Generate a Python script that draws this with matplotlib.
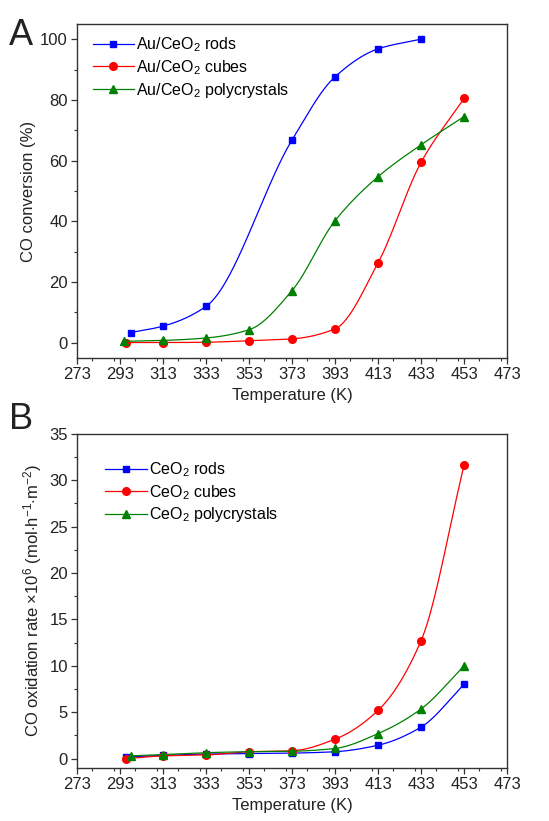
import numpy as np
import matplotlib.pyplot as plt
from matplotlib.ticker import MultipleLocator

plt.rcParams['font.family'] = ['Liberation Sans', 'DejaVu Sans']
plt.rcParams['mathtext.fontset'] = 'custom'
plt.rcParams['mathtext.rm'] = 'Liberation Sans'
plt.rcParams['mathtext.it'] = 'Liberation Sans'

# panel A: CO conversion (%) of Au/CeO2 catalysts
t_rods_a = [298, 313, 333, 373, 393, 413, 433]
rods_a = [3.4, 5.5, 12.0, 66.8, 87.6, 96.8, 100.0]
t_cubes_a = [296, 313, 333, 353, 373, 393, 413, 433, 453]
cubes_a = [0.1, 0.1, 0.2, 0.7, 1.3, 4.6, 26.3, 59.4, 80.5]
t_poly_a = [295, 313, 333, 353, 373, 393, 413, 433, 453]
poly_a = [0.5, 0.8, 1.6, 4.3, 17.2, 40.2, 54.7, 65.2, 74.5]

# panel B: CO oxidation rate of bare CeO2
t_rods_b = [296, 313, 333, 353, 373, 393, 413, 433, 453]
rods_b = [0.2, 0.35, 0.5, 0.55, 0.6, 0.75, 1.45, 3.4, 8.0]
t_cubes_b = [296, 313, 333, 353, 373, 393, 413, 433, 453]
cubes_b = [0.0, 0.3, 0.4, 0.75, 0.85, 2.1, 5.2, 12.7, 31.6]
t_poly_b = [298, 313, 333, 353, 373, 393, 413, 433, 453]
poly_b = [0.3, 0.45, 0.65, 0.75, 0.8, 1.1, 2.7, 5.35, 10.0]

x_ticks = list(range(273, 474, 20))


def pchip(x, y, n=300):
    # monotone cubic interpolation (Fritsch-Carlson)
    x = np.asarray(x, float)
    y = np.asarray(y, float)
    h = np.diff(x)
    d = np.diff(y) / h
    m = np.zeros_like(y)
    for k in range(1, len(x) - 1):
        if d[k - 1] * d[k] > 0:
            w1 = 2 * h[k] + h[k - 1]
            w2 = h[k] + 2 * h[k - 1]
            m[k] = (w1 + w2) / (w1 / d[k - 1] + w2 / d[k])
    m[0] = d[0]
    m[-1] = d[-1]
    xs = np.linspace(x[0], x[-1], n)
    idx = np.clip(np.searchsorted(x, xs) - 1, 0, len(x) - 2)
    t = (xs - x[idx]) / h[idx]
    h00 = 2 * t**3 - 3 * t**2 + 1
    h10 = t**3 - 2 * t**2 + t
    h01 = -2 * t**3 + 3 * t**2
    h11 = t**3 - t**2
    ys = h00 * y[idx] + h10 * h[idx] * m[idx] + h01 * y[idx + 1] + h11 * h[idx] * m[idx + 1]
    return xs, ys


def draw_series(ax, x, y, color, marker, label, ms):
    xs, ys = pchip(x, y)
    ax.plot(xs, ys, color=color, lw=0.9)
    ax.plot(x, y, linestyle='none', marker=marker, color=color, ms=ms)
    ax.plot([], [], color=color, lw=0.9, marker=marker, ms=ms, label=label)


def style_axis(ax, ymin, ymax, ymajor, yminor):
    ax.set_xlim(273, 473)
    ax.set_ylim(ymin, ymax)
    ax.set_xticks(x_ticks)
    ax.xaxis.set_minor_locator(MultipleLocator(10))
    ax.yaxis.set_major_locator(MultipleLocator(ymajor))
    ax.yaxis.set_minor_locator(MultipleLocator(yminor))
    ax.tick_params(which='both', direction='out', top=False, right=False,
                   labelsize=12, color='#333333', labelcolor='#222222', pad=2.5)
    ax.tick_params(which='major', length=4, width=0.9)
    ax.tick_params(which='minor', length=2.5, width=0.8)
    for s in ax.spines.values():
        s.set_linewidth(1.0)
        s.set_color('#333333')
    ax.set_xlabel('Temperature (K)', fontsize=12, color='#222222', labelpad=4)


fig = plt.figure(figsize=(5.49, 8.21), dpi=100)

ax1 = fig.add_axes([0.1403, 0.5639, 0.7832, 0.4069])
draw_series(ax1, t_rods_a, rods_a, '#0000ff', 's', r'Au/CeO$_2$ rods', 5)
draw_series(ax1, t_cubes_a, cubes_a, '#ff0000', 'o', r'Au/CeO$_2$ cubes', 5.5)
draw_series(ax1, t_poly_a, poly_a, '#008000', '^', r'Au/CeO$_2$ polycrystals', 6)
style_axis(ax1, -5, 105, 20, 10)
ax1.set_ylabel('CO conversion (%)', fontsize=12, color='#222222', labelpad=3)
ax1.legend(loc='upper left', bbox_to_anchor=(0.01, 1.0), frameon=False,
           fontsize=11.5, handlelength=2.6, handletextpad=0.15, labelspacing=0.25,
           borderaxespad=0.3)
fig.text(0.016, 0.978, 'A', fontsize=26, va='top', color='#222222')

ax2 = fig.add_axes([0.1403, 0.0646, 0.7832, 0.4069])
draw_series(ax2, t_rods_b, rods_b, '#0000ff', 's', r'CeO$_2$ rods', 5)
draw_series(ax2, t_cubes_b, cubes_b, '#ff0000', 'o', r'CeO$_2$ cubes', 5.5)
draw_series(ax2, t_poly_b, poly_b, '#008000', '^', r'CeO$_2$ polycrystals', 6)
style_axis(ax2, -1, 35, 5, 2.5)
ax2.set_ylabel(r'CO oxidation rate $\times$10$^6$ (mol$\cdot$h$^{-1}$$\cdot$m$^{-2}$)',
               fontsize=12, color='#222222', labelpad=4)
ax2.legend(loc='upper left', bbox_to_anchor=(0.04, 0.955), frameon=False,
           fontsize=11.5, handlelength=2.6, handletextpad=0.15, labelspacing=0.25,
           borderaxespad=0.3)
fig.text(0.016, 0.51, 'B', fontsize=26, va='top', color='#222222')

fig.savefig('out.png', dpi=100)
